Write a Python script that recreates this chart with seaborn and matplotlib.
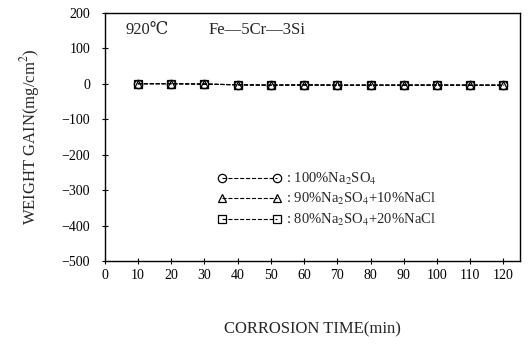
import pandas as pd
import numpy as np
from matplotlib import pyplot as plt
import seaborn as sns

# Data
time_min = [10, 20, 30, 40, 50, 60, 70, 80, 90, 100, 110, 120]
gain_100 = [0, 0, -1, -3, -4, -3, -4, -4, -4, -4, -4, -4]
gain_90 = [0, 0, -1, -3, -4, -3, -4, -4, -4, -3, -4, -4]
gain_80 = [0, 0, -1, -3, -4, -4, -4, -4, -4, -4, -4, -4]
labels = [r': 100%Na$_2$SO$_4$',
          r': 90%Na$_2$SO$_4$+10%NaCl',
          r': 80%Na$_2$SO$_4$+20%NaCl']
markers = ['o', '^', 's']
x_ticks = list(range(0, 130, 10))
y_ticks = list(range(-500, 300, 100))

sns.set_style('ticks')
plt.rcParams['font.family'] = ['Liberation Serif', 'DejaVu Serif']
plt.rcParams['mathtext.fontset'] = 'stix'

fig = plt.figure(figsize=(5.29, 3.47), dpi=100)
ax = fig.add_axes([0.198, 0.248, 0.785, 0.715])

for vals, lab, mk in zip([gain_100, gain_90, gain_80], labels, markers):
    df = pd.DataFrame({'time': time_min, 'gain': vals})
    sns.lineplot(data=df, x='time', y='gain', ax=ax, color='black',
                 linestyle='--', linewidth=0.8, marker=mk, markersize=6,
                 markerfacecolor='none', markeredgecolor='black',
                 markeredgewidth=0.9, label=lab, dashes=(4, 2))

ax.set_xlim(0, 125)
ax.set_ylim(-500, 200)
ax.set_xticks(x_ticks)
ax.set_yticks(y_ticks)
ax.set_yticklabels([str(v).replace('-', '−') for v in y_ticks])
ax.tick_params(direction='inout', length=5, width=0.8, labelsize=10, colors='black')
ax.tick_params(axis='y', pad=8)
for s in ax.spines.values():
    s.set_linewidth(1.0)
    s.set_color('black')

ax.set_xlabel('CORROSION TIME(min)', fontsize=12, labelpad=28)
ax.set_ylabel('WEIGHT GAIN(mg/cm$^2$)', fontsize=12, labelpad=14)

ax.text(0.05, 0.93, '920℃', transform=ax.transAxes, fontsize=12, va='center')
ax.text(0.25, 0.93, 'Fe—5Cr—3Si', transform=ax.transAxes, fontsize=12, va='center')

ax.legend(loc='lower left', bbox_to_anchor=(0.24, 0.08), numpoints=2,
          frameon=False, handlelength=4.4, fontsize=10.5, labelspacing=0.3,
          handletextpad=0.3)

fig.savefig('out.png', dpi=100)
